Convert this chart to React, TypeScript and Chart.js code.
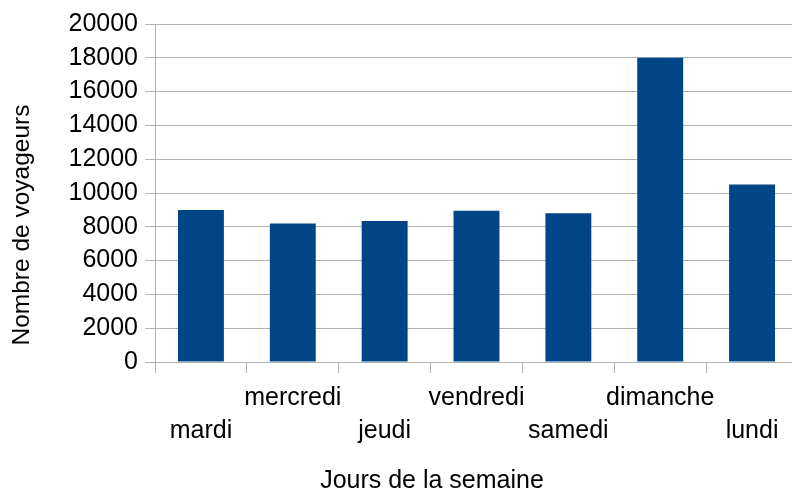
import React, { useEffect, useRef } from "react";
import { Chart, registerables } from "chart.js";

Chart.register(...registerables);

const days = ["mardi", "mercredi", "jeudi", "vendredi", "samedi", "dimanche", "lundi"];
const travellers = [9000, 8200, 8350, 8950, 8800, 18000, 10500];
const yTitle = "Nombre de voyageurs";
const xTitle = "Jours de la semaine";

const FAMILY = "'Liberation Sans', Arial, sans-serif";

const titlesPlugin = {
  id: "axisTitles",
  afterDraw(chart: any) {
    const ctx = chart.ctx as CanvasRenderingContext2D;
    ctx.save();
    ctx.fillStyle = "#000";
    ctx.textAlign = "center";
    ctx.textBaseline = "middle";
    ctx.font = `25px ${FAMILY}`;
    ctx.fillText(xTitle, 432, 481);
    ctx.translate(22, 225);
    ctx.rotate(-Math.PI / 2);
    ctx.font = `24.5px ${FAMILY}`;
    ctx.fillText(yTitle, 0, 0);
    ctx.restore();
  },
};

export default function App() {
  const ref = useRef<HTMLCanvasElement | null>(null);
  useEffect(() => {
    if (!ref.current) return;
    const labels = days.map((d, i) => (i % 2 === 0 ? ["", d] : [d, ""]));
    const font = { family: FAMILY, size: 25 };
    const chart = new Chart(ref.current, {
      type: "bar",
      data: {
        labels,
        datasets: [
          {
            data: travellers,
            backgroundColor: "#004586",
            borderWidth: 0,
            categoryPercentage: 1,
            barPercentage: 0.5,
          },
        ],
      },
      options: {
        animation: false,
        responsive: false,
        maintainAspectRatio: false,
        layout: { padding: { top: 24, right: 2, left: 0, bottom: 0 } },
        plugins: { legend: { display: false }, tooltip: { enabled: false } },
        scales: {
          x: {
            offset: true,
            grid: {
              offset: true,
              drawOnChartArea: false,
              drawTicks: true,
              tickLength: 11,
              color: "#b3b3b3",
            },
            border: { color: "#b3b3b3" },
            ticks: {
              color: "#000",
              font: { ...font, lineHeight: "33px" } as any,
              padding: 9,
              maxRotation: 0,
              autoSkip: false,
            },
            afterFit: (s: any) => {
              s.height = 131;
            },
          },
          y: {
            min: 0,
            max: 20000,
            ticks: {
              stepSize: 2000,
              color: "#000",
              font,
              padding: 7,
              callback: (v: any) => String(v),
            },
            grid: { color: "#b3b3b3", tickLength: 10 },
            border: { color: "#b3b3b3" },
            afterFit: (s: any) => {
              s.width = 155;
            },
          },
        },
      },
      plugins: [titlesPlugin],
    });
    return () => chart.destroy();
  }, []);
  return (
    <div style={{ position: "fixed", left: 0, top: 0, width: 792, height: 493, overflow: "hidden", background: "#fff" }}>
      <canvas ref={ref} width={800} height={493} style={{ width: 800, height: 493, display: "block" }} />
    </div>
  );
}
